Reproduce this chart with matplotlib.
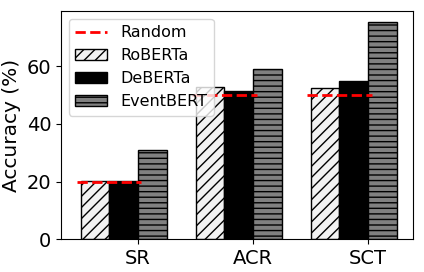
import numpy as np
import matplotlib
matplotlib.use("Agg")
import matplotlib.pyplot as plt

tasks = ["SR", "ACR", "SCT"]
roberta = [20.2, 52.8, 52.6]
deberta = [20.3, 51.3, 54.8]
eventbert = [31.1, 59.1, 75.5]
random_base = [20, 50, 50]

fig = plt.figure(figsize=(4.24, 2.72), dpi=100)
ax = fig.add_axes([0.144, 0.121, 0.830, 0.839])

x = np.arange(len(tasks))
w = 0.25

ax.bar(x - 2 * w, roberta, w, align='edge', color='#f2f2f2', edgecolor='black',
       hatch='///', linewidth=1, label='RoBERTa')
ax.bar(x - w, deberta, w, align='edge', color='black', edgecolor='black',
       linewidth=1, label='DeBERTa')
ax.bar(x, eventbert, w, align='edge', color='#808080', edgecolor='black',
       hatch='---', linewidth=1, label='EventBERT')

for i, r in enumerate(random_base):
    ax.plot([x[i] - 0.53, x[i] + 0.03], [r, r], color='red', linestyle='--',
            linewidth=2, label='Random' if i == 0 else None, zorder=3)

ax.set_xticks(x)
ax.set_xticklabels(tasks, fontsize=14)
ax.tick_params(axis='y', labelsize=14)
ax.set_yticks([0, 20, 40, 60])
ax.set_ylabel('Accuracy (%)', fontsize=14.5)

handles, labels = ax.get_legend_handles_labels()
order = [labels.index(l) for l in ['Random', 'RoBERTa', 'DeBERTa', 'EventBERT']]
ax.legend([handles[i] for i in order], [labels[i] for i in order],
          loc='upper left', fontsize=11.5)

fig.savefig('out.png', dpi=100)
